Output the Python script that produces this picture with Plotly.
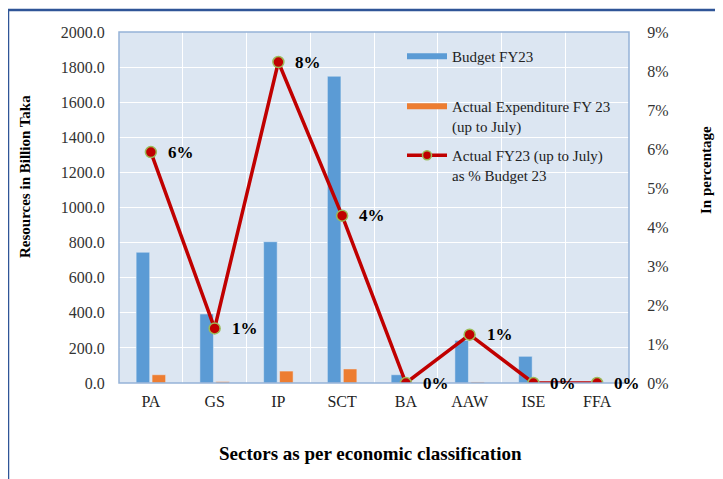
import plotly.graph_objects as go

categories = ["PA", "GS", "IP", "SCT", "BA", "AAW", "ISE", "FFA"]
budget_fy23 = [745, 393, 805, 1748, 47, 243, 152, 0]
actual_exp_fy23 = [47, 8, 68, 80, 2, 6, 1, 0]
actual_pct_budget = [5.92, 1.40, 8.23, 4.29, 0.0, 1.24, 0.0, 0.0]
left_ticks = [0, 200, 400, 600, 800, 1000, 1200, 1400, 1600, 1800, 2000]
right_ticks = list(range(0, 10))

FONT = "Liberation Serif, Times New Roman, serif"
BLUE = "#5B9BD5"
ORANGE = "#ED7D31"
RED = "#C00000"

# plot area in page pixels (the page body adds an 8px offset)
OFF = 8
PL, PR, PT, PB = 119, 629, 32, 383
PW, PH = PR - PL, PB - PT


def px(xp):
    return (xp - PL) / PW


def py(yp):
    return (PB - yp) / PH


fig = go.Figure()

fig.add_trace(go.Bar(x=categories, y=budget_fy23, marker_color=BLUE, showlegend=False,
                     name="Budget FY23"))
fig.add_trace(go.Bar(x=categories, y=actual_exp_fy23, marker_color=ORANGE, showlegend=False,
                     name="Actual Expenditure FY 23 (up to July)"))
fig.add_trace(go.Scatter(x=categories, y=actual_pct_budget, yaxis="y2", mode="lines+markers",
                         line=dict(color=RED, width=3.5),
                         marker=dict(size=11, color=RED, line=dict(color="#9BBB59", width=1.5)),
                         showlegend=False))

# legend proxies, one legend each so their spacing can match
fig.add_trace(go.Scatter(x=[None], y=[None], mode="lines", line=dict(color=BLUE, width=6),
                         name="Budget FY23", legend="legend"))
fig.add_trace(go.Scatter(x=[None], y=[None], mode="lines", line=dict(color=ORANGE, width=6),
                         name="Actual Expenditure FY 23<br>(up to July)", legend="legend2"))
fig.add_trace(go.Scatter(x=[None], y=[None], mode="lines+markers", yaxis="y2",
                         line=dict(color=RED, width=3.5),
                         marker=dict(size=9, color=RED, line=dict(color="#9BBB59", width=1.5)),
                         name="Actual FY23 (up to July)<br>as % Budget 23", legend="legend3"))

annotations = []
for c, v in zip(categories, actual_pct_budget):
    annotations.append(dict(x=c, y=v, xref="x", yref="y2", text=f"<b>{round(v)}%</b>",
                            showarrow=False, xanchor="left", yanchor="middle", xshift=15,
                            font=dict(family=FONT, size=17, color="#000000")))

annotations += [
    dict(text="<b>Resources in Billion Taka</b>", xref="paper", yref="paper",
         x=px(25), y=py(177), textangle=-90, showarrow=False,
         xanchor="center", yanchor="middle", font=dict(family=FONT, size=15, color="#000")),
    dict(text="<b>In percentage</b>", xref="paper", yref="paper",
         x=px(706), y=py(170), textangle=-90, showarrow=False,
         xanchor="center", yanchor="middle", font=dict(family=FONT, size=15, color="#000")),
    dict(text="<b>Sectors as per economic classification</b>", xref="paper", yref="paper",
         x=px(370), y=py(453), showarrow=False,
         xanchor="center", yanchor="middle", font=dict(family=FONT, size=19, color="#000")),
]

shapes = [
    dict(type="rect", xref="paper", yref="paper", x0=0, x1=1, y0=0, y1=1,
         line=dict(color="#95B3D7", width=1.5), layer="above"),
    dict(type="rect", xref="paper", yref="paper",
         x0=px(8), x1=px(760), y0=py(520), y1=py(10),
         line=dict(color="#2F5597", width=2.5)),
]

W, H = 723, 479
legend_common = dict(xanchor="left", yanchor="top", bgcolor="rgba(0,0,0,0)",
                     font=dict(family=FONT, size=15, color="#222"), itemwidth=40,
                     valign="top")

fig.update_layout(
    width=W, height=H,
    margin=dict(l=PL - OFF, r=W + OFF - PR, t=PT - OFF, b=H + OFF - PB),
    paper_bgcolor="white",
    plot_bgcolor="#DCE6F2",
    barmode="group", bargap=0.5, bargroupgap=0.15,
    font=dict(family=FONT, size=15, color="#404040"),
    xaxis=dict(type="category", categoryorder="array", categoryarray=categories,
               range=[-0.5, len(categories) - 0.5], autorange=False,
               showgrid=False, showline=False, ticks="outside", ticklen=4,
               tickcolor="rgba(0,0,0,0)", tickfont=dict(size=16, color="#222")),
    xaxis2=dict(overlaying="x", range=[-0.5, len(categories) - 0.5], autorange=False,
                tickvals=[i + 0.5 for i in range(len(categories) - 1)],
                showticklabels=False, showgrid=True, gridcolor="white", gridwidth=1,
                zeroline=False, showline=False, ticks=""),
    yaxis=dict(range=[0, 2000], tickvals=left_ticks, tickformat=".1f", showgrid=True,
               gridcolor="white", gridwidth=1, zeroline=False, showline=False,
               ticks="outside", ticklen=10, tickcolor="rgba(0,0,0,0)",
               tickfont=dict(size=16, color="#333")),
    yaxis2=dict(overlaying="y", side="right", anchor="x", range=[0, 9], tickvals=right_ticks,
                ticktext=[f"{v}%" for v in right_ticks], showgrid=False, zeroline=False,
                showline=False, ticks="outside", ticklen=14, tickcolor="rgba(0,0,0,0)",
                tickfont=dict(size=16, color="#333")),
    legend=dict(x=px(402), y=py(40), **legend_common),
    legend2=dict(x=px(402), y=py(90), **legend_common),
    legend3=dict(x=px(402), y=py(139), **legend_common),
    annotations=annotations,
    shapes=shapes,
)

fig.add_trace(go.Scatter(x=[None], y=[None], xaxis="x2", showlegend=False, hoverinfo="skip"))

fig.write_html("out.html")
